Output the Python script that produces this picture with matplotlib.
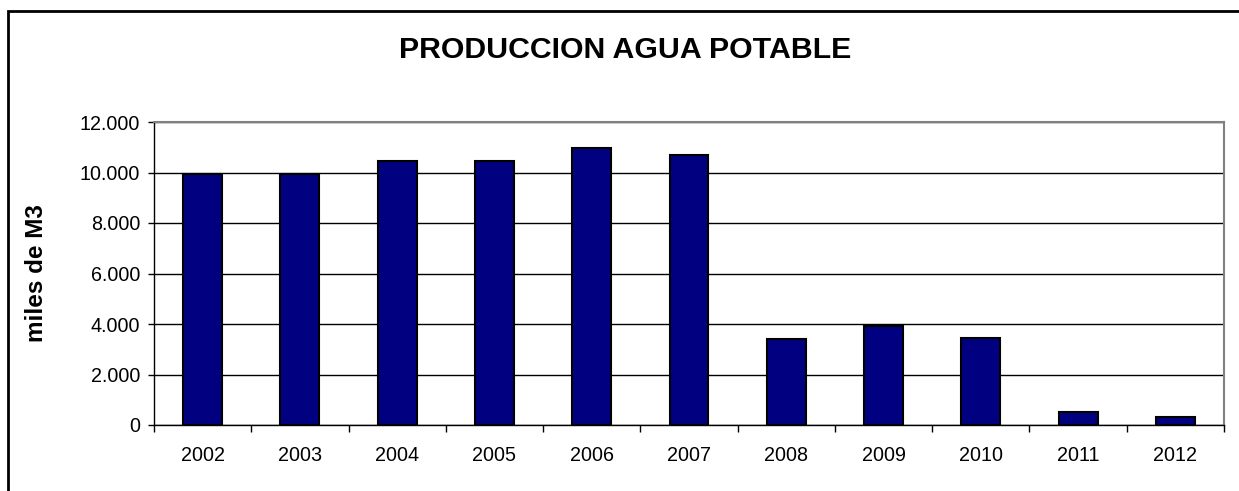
import matplotlib
matplotlib.use("Agg")
import matplotlib.pyplot as plt
from matplotlib.patches import Rectangle
from matplotlib.ticker import FuncFormatter, FixedLocator

plt.rcParams['font.family'] = ['Liberation Sans', 'DejaVu Sans']

anios = ["2002", "2003", "2004", "2005", "2006", "2007", "2008", "2009", "2010", "2011", "2012"]
produccion = [9950, 9950, 10450, 10450, 10970, 10690, 3390, 3920, 3460, 530, 300]

fig = plt.figure(figsize=(12.39, 4.91), dpi=100)
ax = fig.add_axes([154/1239, 66/491, 1070/1239, 303/491])

xs = list(range(len(anios)))
ax.bar(xs, produccion, width=0.4, color="#000080", edgecolor="black", linewidth=1.5, zorder=3)

ax.set_xlim(-0.5, len(anios) - 0.5)
ax.set_ylim(0, 12000)
ax.set_yticks(range(0, 12001, 2000))
ax.yaxis.set_major_formatter(FuncFormatter(lambda v, p: f"{int(v):,}".replace(",", ".")))
ax.grid(axis="y", color="black", linewidth=1, zorder=1)

# etiquetas centradas, marcas entre categorias
ax.set_xticks(xs)
ax.set_xticklabels(anios)
ax.xaxis.set_minor_locator(FixedLocator([i - 0.5 for i in range(len(anios) + 1)]))
ax.tick_params(axis="x", which="major", length=0, pad=15, labelsize=14.2)
ax.tick_params(axis="x", which="minor", length=5, width=1, direction="out")
ax.tick_params(axis="y", length=4, width=1, pad=6, labelsize=14.2)

for lado in ["top", "right"]:
    ax.spines[lado].set_color("#808080")
    ax.spines[lado].set_linewidth(1.5)
for lado in ["left", "bottom"]:
    ax.spines[lado].set_color("black")
    ax.spines[lado].set_linewidth(1)

ax.set_ylabel("miles de M3", fontsize=17.5, fontweight="bold")
ax.yaxis.set_label_coords(-0.099, 0.5)

fig.text(0.5045, 0.898, "PRODUCCION AGUA POTABLE", fontsize=21.8, fontweight="bold",
         ha="center", va="center")

# marco del grafico
fig.patches.append(Rectangle((8/1239, -0.1), 1.2, 1.1 - 11/491,
                             transform=fig.transFigure, fill=False,
                             edgecolor="black", linewidth=2))

fig.savefig("out.png", dpi=100)
